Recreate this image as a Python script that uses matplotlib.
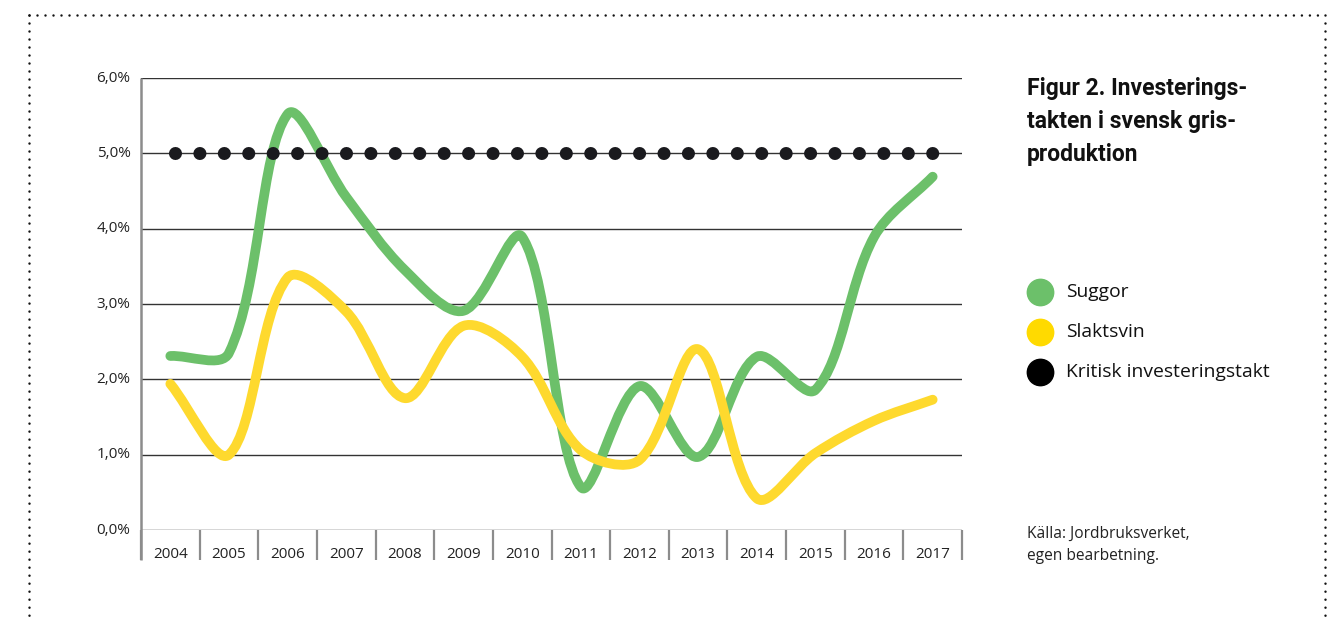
import numpy as np
import matplotlib
matplotlib.use("Agg")
import matplotlib.pyplot as plt
from matplotlib.path import Path
from matplotlib.patches import PathPatch
from matplotlib.lines import Line2D

# ---------------------------------------------------------------------
# Data (investeringstakt, % per år)
years = ["2004", "2005", "2006", "2007", "2008", "2009", "2010",
         "2011", "2012", "2013", "2014", "2015", "2016", "2017"]
suggor = [2.31, 2.35, 5.52, 4.42, 3.45, 2.91, 3.89,
          0.57, 1.91, 0.97, 2.30, 1.86, 3.89, 4.69]
slaktsvin = [1.94, 1.00, 3.35, 2.90, 1.75, 2.71, 2.30,
             1.06, 0.93, 2.40, 0.42, 1.02, 1.45, 1.73]
kritisk = [5.0] * len(years)
yticks = [0, 1, 2, 3, 4, 5, 6]

GREEN = "#6cc06a"
YELLOW = "#fed92e"
BLACK = "#1a1a1e"

plt.rcParams["font.family"] = ["Open Sans", "DejaVu Sans"]

# pixel size of one data unit, used to smooth in screen space
XPX, YPX = 58.64, 75.33


def smooth_path(xs, ys):
    # chord-length weighted smoothing, drawn as cubic Bezier segments
    pts = np.column_stack([xs, ys]).astype(float)
    scr = pts * [XPX, YPX]
    n = len(pts)
    c_in, c_out = [None] * n, [None] * n
    for i in range(n):
        a = pts[max(i - 1, 0)]
        b = pts[min(i + 1, n - 1)]
        d0 = np.linalg.norm(scr[i] - scr[max(i - 1, 0)])
        d1 = np.linalg.norm(scr[min(i + 1, n - 1)] - scr[i])
        tot = d0 + d1 if d0 + d1 > 0 else 1
        t = (b - a) / 3
        c_in[i] = pts[i] - t * d0 / tot
        c_out[i] = pts[i] + t * d1 / tot
    verts = [pts[0]]
    codes = [Path.MOVETO]
    for i in range(n - 1):
        verts += [c_out[i], c_in[i + 1], pts[i + 1]]
        codes += [Path.CURVE4] * 3
    return Path(verts, codes)


fig = plt.figure(figsize=(13.29, 6.19), dpi=100)
ax = fig.add_axes([141 / 1329, 1 - 530 / 619, 821 / 1329, 452 / 619])

x = np.arange(len(years))

# grid lines
for v in yticks:
    ax.axhline(v, color="#333333", lw=1.0, zorder=1)

# category separators below the axis
ax.vlines(np.arange(-0.5, len(years)), 0, -30 / 452, transform=ax.get_xaxis_transform(),
          color="#8c8c8c", lw=1.6, clip_on=False)
ax.vlines([-0.5], -30 / 452, 1, transform=ax.get_xaxis_transform(),
          color="#8c8c8c", lw=1.8, clip_on=False)

# smooth series
for vals, col in [(suggor, GREEN), (slaktsvin, YELLOW)]:
    patch = PathPatch(smooth_path(x, vals), facecolor="none", edgecolor=col,
                      lw=7.0, capstyle="round", joinstyle="round", zorder=3)
    ax.add_patch(patch)

# critical level, drawn as big round dots
ax.plot(x, kritisk, color=BLACK, lw=9.4, linestyle=(1.49, (0.001, 1.87)),
        dash_capstyle="round", zorder=4)

ax.set_xlim(-0.5, len(years) - 0.5)
ax.set_ylim(0, 6)
for s in ax.spines.values():
    s.set_visible(False)
ax.set_xticks([])
ax.set_yticks([])

for v in yticks:
    ax.text(-0.68, v, f"{v},0%", ha="right", va="center", fontsize=11, color="#222222")
for i, yr in enumerate(years):
    ax.text(i, -25 / 452, yr, transform=ax.get_xaxis_transform(), ha="center",
            va="center", fontsize=11, color="#222222")

# title
title_lines = ["Figur 2. Investerings-", "takten i svensk gris-", "produktion"]
for k, line in enumerate(title_lines):
    fig.text(1027 / 1329, 1 - (89 + 32.5 * k) / 619, line, ha="left", va="center",
             fontsize=16.5, fontweight="bold", color="#111111", family=["Roboto", "DejaVu Sans"])

# legend
labels = ["Suggor", "Slaktsvin", "Kritisk investeringstakt"]
colors = [GREEN, "#ffda00", "#000000"]
for k, (lab, col) in enumerate(zip(labels, colors)):
    yy = 1 - (292 + 40 * k) / 619
    fig.add_artist(Line2D([1040 / 1329], [yy], marker="o", markersize=19,
                          color=col, transform=fig.transFigure))
    fig.text(1066 / 1329, yy, lab, ha="left", va="center", fontsize=13.9, color="#111111")

# source
for k, line in enumerate(["Källa: Jordbruksverket,", "egen bearbetning."]):
    fig.text(1027 / 1329, 1 - (534 + 22 * k) / 619, line, ha="left", va="center",
             fontsize=11.2, color="#222222")

# dotted frame
frame = dict(color="#111111", lw=1.8, linestyle=(0, (0.001, 3.2)), dash_capstyle="round",
             transform=fig.transFigure)
t = 1 - 15 / 619
l, r = 29 / 1329, 1325 / 1329
fig.add_artist(Line2D([l, r], [t, t], **frame))
fig.add_artist(Line2D([l, l], [t, 0], **frame))
fig.add_artist(Line2D([r, r], [t, 0], **frame))

fig.savefig("out.png", dpi=100)
